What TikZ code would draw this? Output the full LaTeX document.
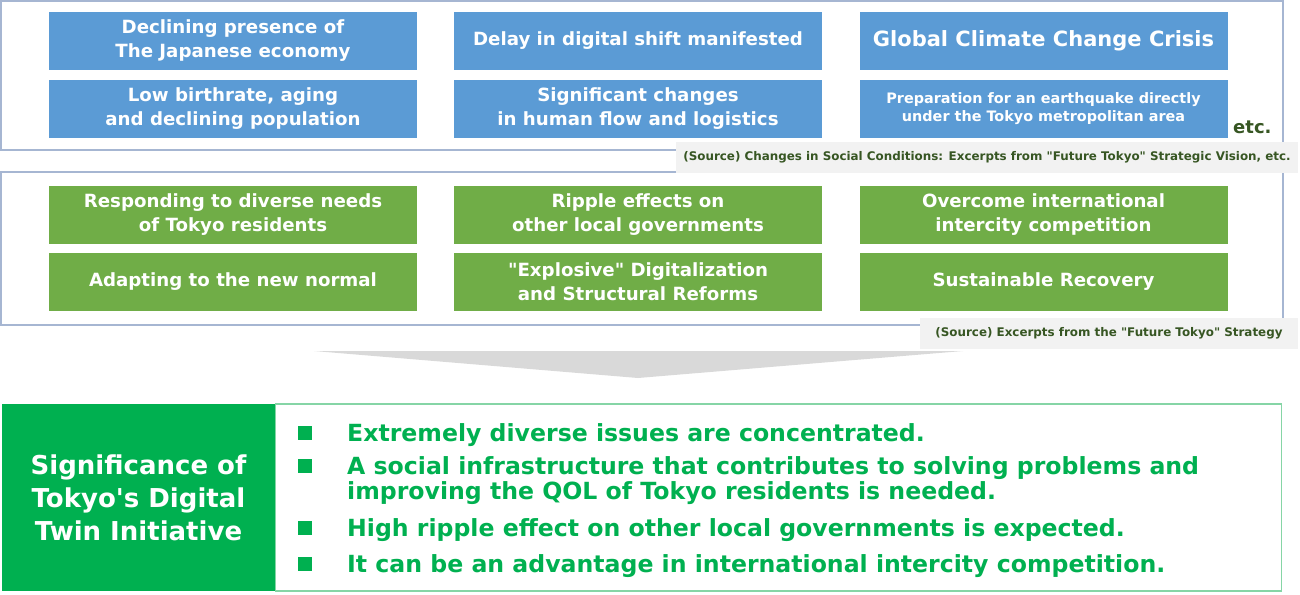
\documentclass[tikz,border=0pt]{standalone}
\usepackage{fontspec}
\setmainfont{DejaVu Sans}[Ligatures=TeXOff]
\usepackage{xcolor}
\definecolor{tileblue}{HTML}{5B9BD5}
\definecolor{tilegreen}{HTML}{70AD47}
\definecolor{framegray}{HTML}{A6B6D2}
\definecolor{srcgray}{HTML}{F2F2F2}
\definecolor{srctext}{HTML}{375623}
\definecolor{arrowgray}{HTML}{D9D9D9}
\definecolor{sigGreen}{HTML}{00B050}
\definecolor{sigframe}{HTML}{86D5A6}

\begin{document}
\begin{tikzpicture}[x=1pt,y=-1pt,
    tile/.style={minimum width=368pt, minimum height=58pt, inner sep=0pt, text=white,
      align=center, font=\bfseries\fontsize{18.2}{24}\selectfont},
    bluetile/.style={tile, fill=tileblue},
    greentile/.style={tile, fill=tilegreen},
    srcbox/.style={fill=srcgray, text=srctext, inner sep=0pt, minimum height=31pt,
      font=\bfseries\fontsize{11.9}{13}\selectfont},
    bullet/.style={fill=sigGreen, minimum size=14pt, inner sep=0pt},
    item/.style={anchor=west, text=sigGreen, align=left, inner sep=0pt, yshift=-2pt,
      font=\bfseries\fontsize{23.6}{25}\selectfont}]
    \useasboundingbox (0,0) rectangle (1300,594);
    % frames
    \draw[framegray, line width=1.2pt] (1,1) rectangle (1283,150);
    \draw[framegray, line width=1.2pt] (1,172) rectangle (1283,325);
    % social conditions
    \node[bluetile] (econ)    at (233,41)    {Declining presence of\\The Japanese economy};
    \node[bluetile] (digital) at (638,41)    {Delay in digital shift manifested};
    \node[bluetile, font=\bfseries\fontsize{21}{24}\selectfont] (climate) at (1043.5,41) {Global Climate Change Crisis};
    \node[bluetile] (birth)   at (233,108.5) {Low birthrate, aging\\and declining population};
    \node[bluetile] (flow)    at (638,108.5) {Significant changes\\in human flow and logistics};
    \node[bluetile, font=\bfseries\fontsize{14.4}{18}\selectfont] (quake) at (1043.5,108.5) {Preparation for an earthquake directly\\under the Tokyo metropolitan area};
    \node[text=srctext, font=\bfseries\fontsize{18}{20}\selectfont, anchor=base west, inner sep=0pt] (etc) at (1233,133) {etc.};
    % strategy
    \node[greentile] (needs)     at (233,215)    {Responding to diverse needs\\of Tokyo residents};
    \node[greentile] (ripple)    at (638,215)    {Ripple effects on\\other local governments};
    \node[greentile] (intercity) at (1043.5,215) {Overcome international\\intercity competition};
    \node[greentile] (normal)    at (233,282)    {Adapting to the new normal};
    \node[greentile] (dx)        at (638,282)    {"Explosive" Digitalization\\and Structural Reforms};
    \node[greentile] (recovery)  at (1043.5,282) {Sustainable Recovery};
    % sources
    \node[srcbox, minimum width=622pt] (src1) at (987,157.5) {(Source) Changes in Social Conditions: Excerpts from "Future Tokyo" Strategic Vision, etc.};
    \node[srcbox, minimum width=378pt] (src2) at (1109,333) {(Source) Excerpts from the "Future Tokyo" Strategy};
    % arrow
    \coordinate (al) at (314,351); \coordinate (ar) at (963,351); \coordinate (tip) at (638,378);
    \fill[arrowgray] (al) -- (ar) -- (tip) -- cycle;
    % significance
    \node[fill=sigGreen, minimum width=273pt, minimum height=187pt, inner sep=0pt, text=white,
      align=center, font=\bfseries\fontsize{26}{33}\selectfont] (sig) at (138.5,497.5)
      {Significance of\\Tokyo's Digital\\Twin Initiative};
    \node[draw=sigframe, line width=1.2pt, minimum width=1006pt, minimum height=187pt, inner sep=0pt,
      anchor=west] (list) at (sig.east) {};
    \node[bullet] (b1) at (305,433) {};
    \node[bullet] (b2) at (305,466) {};
    \node[bullet] (b3) at (305,528) {};
    \node[bullet] (b4) at (305,564) {};
    \node[item] (t1) at (347,433)   {Extremely diverse issues are concentrated.};
    \node[item] (t2) at (347,478.5) {A social infrastructure that contributes to solving problems and\\improving the QOL of Tokyo residents is needed.};
    \node[item] (t3) at (347,528)   {High ripple effect on other local governments is expected.};
    \node[item] (t4) at (347,564)   {It can be an advantage in international intercity competition.};
\end{tikzpicture}
\end{document}
